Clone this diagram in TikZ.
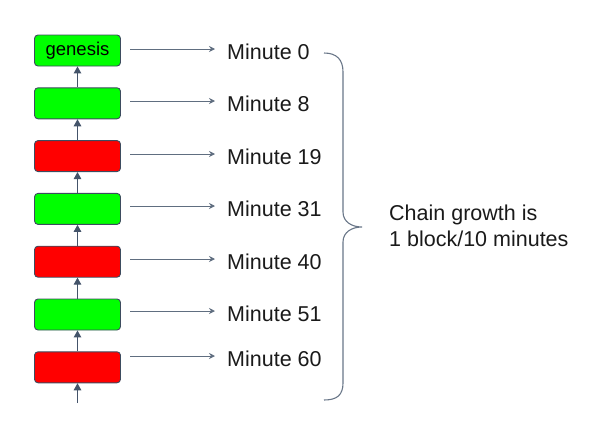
\documentclass[tikz,border=0pt]{standalone}
\usepackage{fontspec}
\setmainfont{Liberation Sans}
\usetikzlibrary{arrows.meta}
\definecolor{slate}{HTML}{44546A}
\definecolor{blockgreen}{HTML}{00FF00}
\definecolor{blockred}{HTML}{FF0000}
\definecolor{txt}{HTML}{1A1A1A}
\begin{document}
\begin{tikzpicture}[x=1pt,y=-1pt,
  block/.style={draw=slate!90!black, line width=0.9pt, rounded corners=3.5pt,
    minimum width=86pt, minimum height=31pt, inner sep=0pt},
  gblock/.style={block, fill=blockgreen},
  rblock/.style={block, fill=blockred},
  minlabel/.style={anchor=west, inner sep=0pt, text=txt, font=\fontsize{21.5}{25}\selectfont},
  uparrow/.style={draw=slate, line width=1.1pt, -{Triangle[width=7.5pt,length=7pt]}},
  harrow/.style={draw=slate!85, line width=0.9pt, -{Stealth[width=6pt,length=6pt,inset=2pt]}},
  bracestyle/.style={draw=slate!80, line width=1.1pt}
]
\useasboundingbox (0,0) rectangle (604,423);
% blocks
\node[gblock, font=\fontsize{18.5}{20}\selectfont] (b1) at (77.5,50.5) {genesis};
\node[gblock] (b2) at (77.5,103.3) {};
\node[rblock] (b3) at (77.5,156.1) {};
\node[gblock] (b4) at (77.5,208.9) {};
\node[rblock] (b5) at (77.5,261.7) {};
\node[gblock] (b6) at (77.5,314.5) {};
\node[rblock] (b7) at (77.5,367.3) {};
\coordinate (b0) at (77.5,403);
% vertical chain arrows
\draw[uparrow] (b2.north) -- (b1.south);
\draw[uparrow] (b3.north) -- (b2.south);
\draw[uparrow] (b4.north) -- (b3.south);
\draw[uparrow] (b5.north) -- (b4.south);
\draw[uparrow] (b6.north) -- (b5.south);
\draw[uparrow] (b7.north) -- (b6.south);
\draw[uparrow] (b0) -- (b7.south);
% labels
\node[minlabel] (m1) at (227,51.5) {Minute 0};
\node[minlabel] (m2) at (227,103.5) {Minute 8};
\node[minlabel] (m3) at (227,156.5) {Minute 19};
\node[minlabel] (m4) at (227,208.5) {Minute 31};
\node[minlabel] (m5) at (227,261.5) {Minute 40};
\node[minlabel] (m6) at (227,313.5) {Minute 51};
\node[minlabel] (m7) at (227,358.5) {Minute 60};
% horizontal arrows
\foreach \i/\y in {1/49,2/101,3/154,4/206,5/259,6/311,7/356}{
  \coordinate (s\i) at (130,\y);
  \coordinate (e\i) at (215,\y);
  \draw[harrow] (s\i) -- (e\i);
}
% brace
\coordinate (tip) at (362,227);
\draw[bracestyle] (324,53) .. controls (337,53) and (343,60) .. (343,72)
  -- (343,212) .. controls (343,222) and (352,227) .. (tip)
  .. controls (352,227) and (343,232) .. (343,242)
  -- (343,383) .. controls (343,395) and (337,400) .. (324,400);
% brace text
\node[anchor=west, inner sep=0pt, text=txt, align=left, font=\fontsize{21.5}{26}\selectfont] (growth) at (389,226) {Chain growth is\\1 block/10 minutes};
\end{tikzpicture}
\end{document}
